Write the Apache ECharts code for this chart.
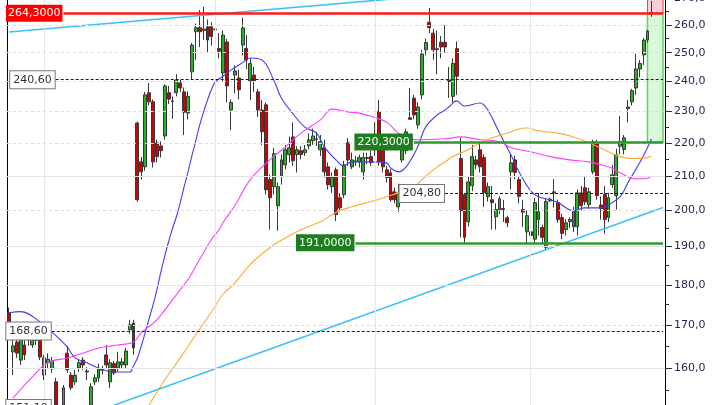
<!DOCTYPE html>
<html><head><meta charset="utf-8">
<script src="https://cdn.jsdelivr.net/npm/echarts@6/dist/echarts.min.js"></script>
<style>html,body{margin:0;padding:0;background:#fff;overflow:hidden}#c{position:absolute;left:0;top:-2px;width:720px;height:412px}</style>
</head><body><div id="c"></div>
<script>
// ---- candle values ----
const opens = [173.0,163.7,166.0,161.8,165.3,166.5,165.3,166.6,167.0,158.4,161.2,159.8,156.9,151.6,151.8,163.4,158.4,156.9,160.0,161.8,159.3,151.8,156.9,157.8,159.5,163.0,156.9,161.0,160.0,160.7,160.7,168.9,170.5,
226.3,214.2,212.7,236.2,233.2,220.0,219.1,222.2,236.2,233.5,236.2,239.5,236.5,229.5,243.3,257.5,259.0,258.0,259.3,259.3,258.5,251.5,242.9,
253.8,230.5,242.2,241.2,252.7,251.5,240.2,242.2,236.5,230.5,232.2,208.9,206.8,201.3,209.9,213.3,216.4,221.9,216.4,217.6,217.0,219.1,220.7,221.0,217.9,218.5,212.7,206.8,211.8,203.6,204.5,220.1,212.7,214.2,214.2,211.2,215.2,215.8,218.0,230.0,221.6,211.8,210.9,205.3,201.0,214.8,217.6,228.0,234.4,225.7,235.5,251.0,261.0,257.0,251.4,253.7,253.7,240.5,235.0,251.4,
215.2,204.5,196.8,207.1,214.8,217.9,215.5,203.9,203.0,198.2,200.2,200.2,197.9,211.2,214.8,208.9,200.2,194.0,194.0,192.0,197.4,195.2,189.8,202.7,205.0,202.2,198.0,194.6,196.8,195.4,195.4,205.0,206.5,201.6,211.2,220.1,201.5,204.5,198.0,207.4,204.2,219.0,218.0,231.0,233.2,237.8,244.3,249.2,254.5,264.6];
const closes = [170.1,165.1,163.4,167.0,163.0,167.7,167.7,166.4,162.5,162.3,162.0,161.6,151.8,151.3,155.6,159.6,155.6,158.4,161.2,160.7,159.1,155.8,157.8,159.8,159.8,160.7,161.2,158.9,161.4,161.4,163.9,170.1,164.6,
203.0,211.2,235.5,233.2,214.2,215.8,217.6,238.5,234.1,233.3,240.5,237.8,229.8,235.0,252.7,259.0,257.5,258.5,254.5,255.8,258.2,250.5,256.3,
238.5,233.0,243.6,237.2,258.9,247.4,246.2,240.2,230.5,223.5,205.9,203.6,216.7,206.8,214.8,217.9,218.5,214.5,217.9,216.4,217.9,221.0,222.2,221.3,220.4,211.2,207.4,209.5,198.8,200.7,213.3,214.8,214.8,214.5,215.5,215.5,215.5,214.0,222.0,214.2,212.7,209.5,203.0,203.0,205.0,217.9,223.5,227.5,228.9,231.5,249.5,253.6,259.0,251.0,251.1,252.0,252.0,240.0,246.2,241.8,
199.9,192.5,208.2,215.8,213.3,212.7,205.1,206.8,202.2,200.2,203.3,200.5,196.5,213.9,211.0,204.0,199.5,198.5,193.0,202.2,199.6,192.5,202.5,203.2,205.3,197.4,193.6,196.5,197.4,199.6,205.0,201.3,202.4,205.3,220.4,204.2,200.5,197.4,203.6,210.3,216.4,220.4,221.6,231.5,236.9,244.3,246.2,254.5,257.8,264.0];
const lows = [168.9,158.4,162.3,160.7,161.8,165.1,164.6,165.3,161.8,157.3,159.8,158.9,151.2,151.1,151.3,158.9,155.1,156.2,159.1,159.6,157.3,151.2,156.2,156.9,158.6,159.8,155.5,158.4,159.1,160.0,160.0,168.0,163.0,
202.5,208.9,211.5,232.0,212.5,214.0,215.5,221.0,232.5,227.6,235.0,236.5,222.5,227.5,240.5,247.5,252.0,254.5,250.2,252.5,253.8,248.0,240.0,
233.0,224.0,236.0,234.0,249.0,244.3,233.8,236.5,228.3,219.4,204.5,194.6,204.5,194.3,207.4,212.0,214.0,213.0,211.0,215.0,216.0,218.0,219.4,219.0,216.0,209.5,206.0,205.0,197.0,199.5,203.5,213.0,212.0,213.0,212.5,208.9,213.5,213.0,216.0,213.0,211.0,208.0,202.5,202.0,199.5,214.0,216.5,227.3,227.5,224.5,234.0,249.0,257.0,247.5,242.5,248.0,250.0,234.5,233.0,235.5,
192.5,191.0,195.5,205.5,212.0,211.0,201.0,202.5,194.6,194.6,199.0,196.7,195.3,206.0,209.0,202.0,195.3,190.6,187.9,191.0,193.0,190.6,189.0,202.4,200.8,196.5,192.0,193.0,195.0,194.0,193.0,200.0,201.5,200.5,210.5,203.0,197.4,193.5,196.7,206.5,200.2,216.5,216.5,226.5,232.0,235.5,241.5,245.7,253.5,263.0];
const highs = [174.3,167.2,167.0,168.5,166.5,168.5,168.5,167.7,167.7,163.0,163.4,162.5,157.8,151.7,156.2,165.1,159.1,159.6,162.0,162.5,160.2,156.6,158.6,161.0,160.5,165.3,162.0,161.6,163.7,162.3,164.6,171.3,171.3,
226.8,215.7,236.5,239.5,234.0,221.0,220.5,239.0,238.5,235.0,242.5,240.6,238.0,236.7,253.5,260.5,265.5,266.8,262.0,261.0,260.0,257.0,258.0,
255.0,234.0,245.5,244.0,262.7,256.3,248.0,245.0,237.5,233.8,233.0,210.3,218.5,208.0,216.4,219.4,222.0,226.5,219.0,219.0,219.4,223.0,224.5,223.5,222.5,221.0,214.0,211.0,212.5,205.0,214.5,221.5,217.0,216.0,216.4,217.0,217.0,217.6,226.5,233.8,222.5,213.0,212.0,206.5,207.7,219.0,224.5,237.8,235.5,233.0,251.0,255.0,266.3,258.5,258.0,256.0,260.0,245.0,248.0,254.0,
221.6,205.0,210.0,219.4,216.0,220.5,216.5,208.0,207.0,202.0,204.0,203.0,198.5,216.7,216.0,210.0,203.0,200.0,194.5,203.5,205.0,196.0,203.5,203.6,209.0,203.0,199.0,197.5,198.0,201.0,206.0,207.0,209.9,206.5,221.0,221.0,204.0,207.0,205.0,213.3,218.2,228.6,222.5,233.8,237.5,249.6,247.4,255.2,258.2,269.0];

// ---- moving averages: [candle index, value] ----
const maBlue = [[0,173.0],[3,173.3],[8,170.8],[11,168.4],[15,164.8],[17,162.3],[20,161.2],[23,160.0],[27,159.1],[31,159.1],[32,160.5],[33,162.3],[34,165.1],[35,168.2],[36,171.6],[37,174.9],[38,178.8],[39,183.2],[40,187.4],[41,191.3],[42,194.9],[43,198.2],[44,202.2],[45,206.8],[46,211.2],[47,216.1],[48,220.7],[49,225.7],[50,229.9],[51,233.8],[52,237.2],[53,239.8],[55,241.8],[57,243.9],[60,246.5],[62,248.1],[65,247.4],[68,240.5],[70,234.4],[73,229.2],[76,225.0],[79,223.1],[81,218.8],[84,214.8],[86,213.0],[88,214.2],[91,214.2],[94,214.2],[97,213.9],[98,212.4],[100,211.2],[102,212.7],[105,218.8],[107,225.0],[110,228.9],[112,230.5],[113,231.5],[115,233.5],[117,231.8],[121,232.8],[123,230.5],[126,223.1],[129,216.1],[131,211.2],[134,205.6],[136,203.9],[139,203.0],[141,202.2],[145,199.9],[148,200.7],[152,200.7],[154,201.6],[157,203.9],[159,208.0],[162,213.9],[164,218.5],[165,221.3]];
const maMagenta = [[1,153.3],[6,158.0],[10,161.2],[15,162.3],[19,163.4],[23,164.6],[28,165.3],[32,166.0],[34,168.2],[38,171.3],[42,176.2],[46,181.4],[49,186.6],[52,191.9],[54,194.6],[55,196.6],[58,201.3],[62,208.9],[67,214.8],[71,218.8],[75,223.1],[80,227.3],[83,230.8],[87,229.9],[90,229.5],[94,228.0],[97,226.6],[100,223.1],[102,221.6],[105,221.0],[112,221.3],[116,221.9],[121,221.0],[126,220.4],[129,218.5],[134,217.3],[139,215.8],[144,214.8],[149,214.2],[154,212.7],[157,210.9],[161,209.1],[164,209.3],[165,209.9]];
const maOrange = [[35,150.2],[36,151.8],[40,157.3],[44,162.3],[48,167.7],[52,173.2],[55,177.6],[58,180.4],[62,185.3],[67,189.7],[71,192.3],[75,194.6],[80,196.8],[84,199.4],[88,201.0],[93,202.5],[97,203.9],[100,205.0],[104,206.8],[107,209.8],[110,212.7],[112,214.2],[114,215.8],[118,217.9],[121,220.1],[124,221.6],[128,223.1],[131,224.4],[133,224.7],[136,223.8],[141,223.1],[145,221.9],[149,220.1],[154,217.3],[157,215.8],[160,215.2],[164,215.5],[165,216.1]];

// ---- trend lines: [candle index, value] ----
const trendUpper = [[0,257.4],[120,272.5]];
const trendLower = [[20,149.7],[168,200.8]];

// ---- horizontal levels ----
const levelRed = 264.3;
const levelsGreen = [220.3, 191.0];
const levelsRef = [240.6, 204.8, 168.6, 151.1];

// ---- axis ticks ----
const majorTicks = [160,170,180,190,200,210,220,230,240,250,260,270];
const minorTicks = [155,165,175,185,195,205,215,225,235,245,255,265];
const gridSolid = [160,180,190,210];
const gridDashed = [170,200,220,230,240,250,260];

const N = 169;
const categories = Array.from({length: N}, (_, i) => 'T' + (i + 1));
const candles = opens.map((o, i) => [o, closes[i], lows[i], highs[i]]);
const FONT = 'DejaVu Sans';
const yMin = 150.77, yMax = 270.1;
const comma = (v, d) => v.toFixed(d).replace('.', ',');

const chart = echarts.init(document.getElementById('c'));

function levelLine(value, startIdx, text, lineStyle, labelStyle) {
  return [
    {coord: [categories[startIdx], value], lineStyle: lineStyle,
     label: Object.assign({show: true, position: 'start', distance: 1, formatter: text,
       fontFamily: FONT, fontSize: 11, lineHeight: 13, padding: [2, 2, 2, 2]}, labelStyle)},
    {coord: [categories[N - 1], value]}
  ];
}
const dashStyle = {color: '#1a1a1a', type: [3, 2], width: 1};
const refLabel = {color: '#333', backgroundColor: '#fff', borderColor: '#777', borderWidth: 1, padding: [2, 3, 2, 3]};
const greenStyle = {color: '#2f9a2f', type: 'solid', width: 2.5};
const greenLabel = {color: '#fff', backgroundColor: '#1e7d1e', padding: [2, 3, 2, 3]};

const option = {
  animation: false,
  backgroundColor: '#ffffff',
  textStyle: {fontFamily: FONT},
  grid: {left: 7, right: 55, top: 0, bottom: 0, containLabel: false, outerBoundsMode: 'none'},
  xAxis: {type: 'category', data: categories, boundaryGap: true,
    axisLine: {show: false}, axisTick: {show: false}, axisLabel: {show: false}, splitLine: {show: false}},
  yAxis: [
    {type: 'log', logBase: 10, min: yMin, max: yMax, position: 'right',
      axisLine: {show: true, onZero: false, lineStyle: {color: '#000', width: 1}},
      axisTick: {show: true, customValues: majorTicks, length: 7, lineStyle: {color: '#333'}},
      axisLabel: {show: true, customValues: majorTicks, formatter: v => comma(v, 1),
        color: '#1d2450', fontFamily: FONT, fontSize: 11, margin: 9},
      splitLine: {show: false}},
    {type: 'log', logBase: 10, min: yMin, max: yMax, position: 'right',
      axisLine: {show: false},
      axisTick: {show: true, customValues: minorTicks, length: 4, lineStyle: {color: '#333'}},
      axisLabel: {show: false}, splitLine: {show: false}},
    {type: 'value', position: 'left', axisLine: {show: true, onZero: false, lineStyle: {color: '#000'}},
      axisTick: {show: false}, axisLabel: {show: false}, splitLine: {show: false}}
  ],
  series: [
    {name: 'grid', type: 'line', data: [], z: 1, silent: true,
      markLine: {silent: true, symbol: ['none', 'none'], label: {show: false}, animation: false,
        data: gridSolid.map(v => ({yAxis: v, lineStyle: {color: '#e3e3e3', type: 'solid', width: 1}}))
          .concat(gridDashed.map(v => ({yAxis: v, lineStyle: {color: '#ead6d6', type: [3, 3], width: 1}})))
          .concat([9, 53, 94, 134].map(i => ({xAxis: categories[i], lineStyle: {color: '#e6e6e6', type: 'solid', width: 1}})))},
      markArea: {silent: true,
        data: [
          [{xAxis: categories[164], yAxis: levelsGreen[0], itemStyle: {color: 'rgba(200,248,200,0.7)', borderColor: '#55dd55', borderWidth: 1.5}},
           {xAxis: categories[N - 1], yAxis: levelRed}],
          [{xAxis: categories[164], yAxis: levelRed, itemStyle: {color: 'rgba(248,200,210,0.85)', borderColor: '#ff3333', borderWidth: 1}},
           {xAxis: categories[N - 1], yAxis: yMax}]
        ]}},
    {name: 'price', type: 'candlestick', data: candles, z: 3, barWidth: 3.4,
      itemStyle: {color: '#22b422', color0: '#d20000', borderColor: '#383838', borderColor0: '#383838', borderWidth: 1}},
    {name: 'MA blue', type: 'line', data: maBlue, z: 4, showSymbol: false, smooth: 0.4,
      lineStyle: {color: '#3f3ff5', width: 1.1}},
    {name: 'MA magenta', type: 'line', data: maMagenta, z: 4, showSymbol: false, smooth: 0.4,
      lineStyle: {color: '#ff3cff', width: 1.1}},
    {name: 'MA orange', type: 'line', data: maOrange, z: 4, showSymbol: false, smooth: 0.4,
      lineStyle: {color: '#ffaa33', width: 1.1}},
    {name: 'trend upper', type: 'line', data: trendUpper, z: 4, showSymbol: false,
      lineStyle: {color: '#3cc3f2', width: 1.6}},
    {name: 'trend lower', type: 'line', data: trendLower, z: 4, showSymbol: false,
      lineStyle: {color: '#3cc3f2', width: 1.6}},
    {name: 'levels', type: 'line', data: [], z: 6, silent: true,
      markLine: {silent: true, symbol: ['none', 'none'], animation: false,
        data: [
          levelLine(levelRed, 14, comma(levelRed, 4), {color: '#ff1a1a', type: 'solid', width: 2.5},
            {color: '#fff', backgroundColor: '#ff0000'}),
          levelLine(levelsRef[0], 12, comma(levelsRef[0], 2), dashStyle, refLabel),
          levelLine(levelsRef[1], 112, comma(levelsRef[1], 2), dashStyle, refLabel),
          levelLine(levelsRef[2], 11, comma(levelsRef[2], 2), dashStyle, refLabel),
          levelLine(levelsRef[3], 11, comma(levelsRef[3], 2), dashStyle, refLabel),
          levelLine(levelsGreen[0], 104, comma(levelsGreen[0], 4), greenStyle, greenLabel),
          levelLine(levelsGreen[1], 89, comma(levelsGreen[1], 4), greenStyle, greenLabel)
        ]}}
  ]
};
chart.setOption(option);
</script>
</body></html>
